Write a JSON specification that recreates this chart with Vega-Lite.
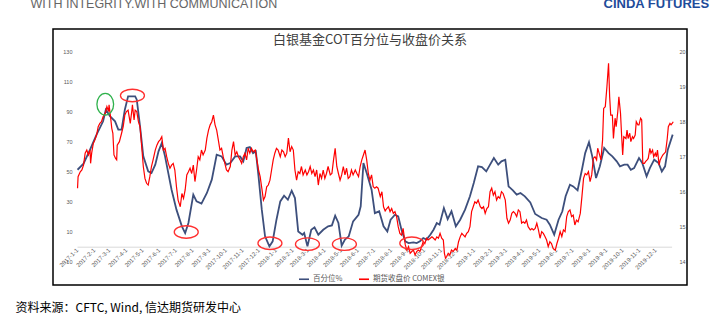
{
  "$schema": "https://vega.github.io/schema/vega-lite/v6.json",
  "width": 634,
  "height": 256,
  "autosize": {"type": "none"},
  "padding": {"left": 53, "top": 29, "right": 31, "bottom": 29},
  "background": "white",
  "config": {
    "view": {"stroke": "#000000", "strokeWidth": 1.5},
    "font": "Liberation Sans",
    "axis": {"labelFont": "Liberation Sans"}
  },
  "title": {
    "text": "白银基金COT百分位与收盘价关系",
    "frame": "group",
    "anchor": "middle",
    "orient": "top",
    "offset": -60,
    "baseline": "alphabetic",
    "font": "Noto Sans CJK SC",
    "fontSize": 13,
    "fontWeight": "normal",
    "color": "#404040"
  },
  "datasets": {
    "cot": [
      {"date": "2017-01-02", "pct": 51.3}, {"date": "2017-01-13", "pct": 55.3}, {"date": "2017-01-25", "pct": 64.7},
      {"date": "2017-02-06", "pct": 74.7}, {"date": "2017-02-18", "pct": 83.6}, {"date": "2017-02-23", "pct": 91.3},
      {"date": "2017-03-03", "pct": 86.9}, {"date": "2017-03-12", "pct": 83.6}, {"date": "2017-03-18", "pct": 78},
      {"date": "2017-03-24", "pct": 78}, {"date": "2017-03-30", "pct": 91.3}, {"date": "2017-04-05", "pct": 100.2},
      {"date": "2017-04-18", "pct": 100.2}, {"date": "2017-04-21", "pct": 98}, {"date": "2017-04-27", "pct": 80.2},
      {"date": "2017-05-03", "pct": 60.2}, {"date": "2017-05-12", "pct": 50.2}, {"date": "2017-05-18", "pct": 49.1},
      {"date": "2017-05-25", "pct": 54.7}, {"date": "2017-05-31", "pct": 63.6}, {"date": "2017-06-06", "pct": 69.1},
      {"date": "2017-06-12", "pct": 60.2}, {"date": "2017-06-18", "pct": 49.1}, {"date": "2017-06-24", "pct": 38},
      {"date": "2017-07-03", "pct": 24.7}, {"date": "2017-07-13", "pct": 13.6}, {"date": "2017-07-19", "pct": 9.1},
      {"date": "2017-07-25", "pct": 15.8}, {"date": "2017-08-03", "pct": 34.7}, {"date": "2017-08-09", "pct": 30.2},
      {"date": "2017-08-18", "pct": 28.7}, {"date": "2017-08-28", "pct": 35.8}, {"date": "2017-09-06", "pct": 44.7},
      {"date": "2017-09-15", "pct": 61.3}, {"date": "2017-09-24", "pct": 60.2}, {"date": "2017-10-03", "pct": 54.7},
      {"date": "2017-10-10", "pct": 55.8}, {"date": "2017-10-19", "pct": 60.2}, {"date": "2017-10-28", "pct": 60.2},
      {"date": "2017-11-03", "pct": 56.9}, {"date": "2017-11-09", "pct": 65.8}, {"date": "2017-11-15", "pct": 66.4},
      {"date": "2017-11-21", "pct": 62.4}, {"date": "2017-11-26", "pct": 63.6}, {"date": "2017-12-01", "pct": 46.9},
      {"date": "2017-12-07", "pct": 24.7}, {"date": "2017-12-13", "pct": 6.9}, {"date": "2017-12-21", "pct": 0.2},
      {"date": "2017-12-27", "pct": 3.6}, {"date": "2018-01-03", "pct": 18}, {"date": "2018-01-10", "pct": 30.2},
      {"date": "2018-01-17", "pct": 34}, {"date": "2018-01-24", "pct": 31.3}, {"date": "2018-01-31", "pct": 37.3},
      {"date": "2018-02-06", "pct": 32.4}, {"date": "2018-02-12", "pct": 10.2}, {"date": "2018-02-20", "pct": 8},
      {"date": "2018-02-23", "pct": 9.1}, {"date": "2018-03-01", "pct": 0.2}, {"date": "2018-03-08", "pct": 11.3},
      {"date": "2018-03-14", "pct": 12.9}, {"date": "2018-03-21", "pct": 8}, {"date": "2018-03-30", "pct": 11.3},
      {"date": "2018-04-08", "pct": 13.6}, {"date": "2018-04-15", "pct": 14.2}, {"date": "2018-04-21", "pct": 20.7},
      {"date": "2018-04-27", "pct": 15.8}, {"date": "2018-05-03", "pct": 0.7}, {"date": "2018-05-09", "pct": 4.7},
      {"date": "2018-05-16", "pct": 6.9}, {"date": "2018-05-24", "pct": 16.9}, {"date": "2018-06-03", "pct": 21.3},
      {"date": "2018-06-07", "pct": 26.9}, {"date": "2018-06-12", "pct": 55.8}, {"date": "2018-06-18", "pct": 49.1},
      {"date": "2018-06-27", "pct": 38}, {"date": "2018-07-03", "pct": 22.4}, {"date": "2018-07-11", "pct": 23.6},
      {"date": "2018-07-19", "pct": 13.6}, {"date": "2018-07-26", "pct": 10.2}, {"date": "2018-08-01", "pct": 18},
      {"date": "2018-08-09", "pct": 21.3}, {"date": "2018-08-15", "pct": 20.2}, {"date": "2018-08-21", "pct": 11.3},
      {"date": "2018-08-28", "pct": 3.6}, {"date": "2018-09-03", "pct": 2.4}, {"date": "2018-09-12", "pct": 2.9},
      {"date": "2018-09-18", "pct": 2.4}, {"date": "2018-09-24", "pct": 3.6}, {"date": "2018-09-30", "pct": 5.8},
      {"date": "2018-10-06", "pct": 4.7}, {"date": "2018-10-13", "pct": 8}, {"date": "2018-10-19", "pct": 11.3},
      {"date": "2018-10-25", "pct": 15.8}, {"date": "2018-10-30", "pct": 14.7}, {"date": "2018-11-07", "pct": 25.8},
      {"date": "2018-11-14", "pct": 18.4}, {"date": "2018-11-21", "pct": 23.6}, {"date": "2018-11-29", "pct": 13.6},
      {"date": "2018-12-07", "pct": 18}, {"date": "2018-12-16", "pct": 24.7}, {"date": "2018-12-25", "pct": 33.6},
      {"date": "2019-01-01", "pct": 42.4}, {"date": "2019-01-09", "pct": 53.6}, {"date": "2019-01-16", "pct": 53.1},
      {"date": "2019-01-24", "pct": 50.2}, {"date": "2019-01-31", "pct": 54.7}, {"date": "2019-02-07", "pct": 59.1},
      {"date": "2019-02-15", "pct": 54.7}, {"date": "2019-02-21", "pct": 56.9}, {"date": "2019-02-28", "pct": 58},
      {"date": "2019-03-06", "pct": 40.2}, {"date": "2019-03-14", "pct": 37.6}, {"date": "2019-03-21", "pct": 34.7},
      {"date": "2019-03-28", "pct": 35.8}, {"date": "2019-04-05", "pct": 33.6}, {"date": "2019-04-15", "pct": 29.5},
      {"date": "2019-04-24", "pct": 21.8}, {"date": "2019-05-06", "pct": 19.1}, {"date": "2019-05-15", "pct": 18},
      {"date": "2019-05-21", "pct": 14.7}, {"date": "2019-05-29", "pct": 8}, {"date": "2019-06-06", "pct": 18},
      {"date": "2019-06-13", "pct": 23.6}, {"date": "2019-06-19", "pct": 33.6}, {"date": "2019-06-27", "pct": 41.3},
      {"date": "2019-07-03", "pct": 40.2}, {"date": "2019-07-11", "pct": 37.6}, {"date": "2019-07-19", "pct": 51.3},
      {"date": "2019-07-25", "pct": 62.4}, {"date": "2019-08-01", "pct": 69.6}, {"date": "2019-08-07", "pct": 60.2},
      {"date": "2019-08-14", "pct": 45.8}, {"date": "2019-08-21", "pct": 53.6}, {"date": "2019-08-29", "pct": 65.8},
      {"date": "2019-09-06", "pct": 62.4}, {"date": "2019-09-13", "pct": 60.2}, {"date": "2019-09-21", "pct": 56.9},
      {"date": "2019-09-27", "pct": 53.6}, {"date": "2019-10-05", "pct": 54.7}, {"date": "2019-10-11", "pct": 54.7},
      {"date": "2019-10-17", "pct": 51.3}, {"date": "2019-10-23", "pct": 52.4}, {"date": "2019-11-01", "pct": 59.1},
      {"date": "2019-11-07", "pct": 55.8}, {"date": "2019-11-15", "pct": 46.9}, {"date": "2019-11-21", "pct": 52.4},
      {"date": "2019-11-29", "pct": 58}, {"date": "2019-12-07", "pct": 55.8}, {"date": "2019-12-13", "pct": 50.2},
      {"date": "2019-12-19", "pct": 53.6}, {"date": "2019-12-24", "pct": 64.7}, {"date": "2020-01-02", "pct": 74.7}
    ],
    "price": [
      {"date": "2017-01-02", "price": 16.10}, {"date": "2017-01-03", "price": 16.43}, {"date": "2017-01-07", "price": 16.57},
      {"date": "2017-01-10", "price": 16.62}, {"date": "2017-01-13", "price": 16.76}, {"date": "2017-01-16", "price": 17.10},
      {"date": "2017-01-19", "price": 17.19}, {"date": "2017-01-22", "price": 17.05}, {"date": "2017-01-25", "price": 17.19},
      {"date": "2017-01-26", "price": 16.81}, {"date": "2017-01-28", "price": 17.10}, {"date": "2017-01-31", "price": 17.38},
      {"date": "2017-02-03", "price": 17.48}, {"date": "2017-02-06", "price": 17.62}, {"date": "2017-02-09", "price": 17.86},
      {"date": "2017-02-12", "price": 17.95}, {"date": "2017-02-15", "price": 18.0}, {"date": "2017-02-18", "price": 18.14},
      {"date": "2017-02-22", "price": 18.24}, {"date": "2017-02-25", "price": 18.43}, {"date": "2017-02-28", "price": 18.29},
      {"date": "2017-03-01", "price": 18.48}, {"date": "2017-03-04", "price": 18.10}, {"date": "2017-03-06", "price": 17.81},
      {"date": "2017-03-08", "price": 17.67}, {"date": "2017-03-10", "price": 17.05}, {"date": "2017-03-13", "price": 16.95},
      {"date": "2017-03-15", "price": 16.91}, {"date": "2017-03-16", "price": 17.33}, {"date": "2017-03-20", "price": 17.43},
      {"date": "2017-03-24", "price": 17.67}, {"date": "2017-03-27", "price": 17.86}, {"date": "2017-03-30", "price": 18.19},
      {"date": "2017-04-02", "price": 18.29}, {"date": "2017-04-05", "price": 18.33}, {"date": "2017-04-09", "price": 17.95},
      {"date": "2017-04-12", "price": 18.33}, {"date": "2017-04-13", "price": 18.48}, {"date": "2017-04-16", "price": 18.05},
      {"date": "2017-04-18", "price": 18.33}, {"date": "2017-04-21", "price": 18.29}, {"date": "2017-04-24", "price": 18.0},
      {"date": "2017-04-27", "price": 17.86}, {"date": "2017-04-30", "price": 17.29}, {"date": "2017-05-03", "price": 16.72},
      {"date": "2017-05-06", "price": 16.38}, {"date": "2017-05-09", "price": 16.24}, {"date": "2017-05-12", "price": 16.19},
      {"date": "2017-05-15", "price": 16.43}, {"date": "2017-05-18", "price": 16.72}, {"date": "2017-05-21", "price": 16.91},
      {"date": "2017-05-25", "price": 17.19}, {"date": "2017-05-28", "price": 17.33}, {"date": "2017-05-31", "price": 17.43},
      {"date": "2017-06-03", "price": 17.48}, {"date": "2017-06-06", "price": 17.57}, {"date": "2017-06-09", "price": 17.19},
      {"date": "2017-06-12", "price": 17.24}, {"date": "2017-06-15", "price": 17.0}, {"date": "2017-06-18", "price": 16.81},
      {"date": "2017-06-21", "price": 16.67}, {"date": "2017-06-24", "price": 16.76}, {"date": "2017-06-27", "price": 16.81},
      {"date": "2017-06-30", "price": 16.62}, {"date": "2017-07-03", "price": 16.14}, {"date": "2017-07-06", "price": 15.76},
      {"date": "2017-07-10", "price": 15.57}, {"date": "2017-07-13", "price": 15.95}, {"date": "2017-07-16", "price": 15.81},
      {"date": "2017-07-19", "price": 16.05}, {"date": "2017-07-22", "price": 16.48}, {"date": "2017-07-25", "price": 16.57},
      {"date": "2017-07-28", "price": 16.67}, {"date": "2017-07-31", "price": 16.52}, {"date": "2017-08-03", "price": 16.76},
      {"date": "2017-08-06", "price": 16.29}, {"date": "2017-08-09", "price": 16.62}, {"date": "2017-08-12", "price": 17.0},
      {"date": "2017-08-15", "price": 16.91}, {"date": "2017-08-18", "price": 17.19}, {"date": "2017-08-21", "price": 17.05},
      {"date": "2017-08-25", "price": 17.19}, {"date": "2017-08-28", "price": 17.53}, {"date": "2017-08-31", "price": 17.76},
      {"date": "2017-09-03", "price": 17.91}, {"date": "2017-09-06", "price": 18.0}, {"date": "2017-09-09", "price": 18.19},
      {"date": "2017-09-12", "price": 17.91}, {"date": "2017-09-15", "price": 17.76}, {"date": "2017-09-18", "price": 17.48},
      {"date": "2017-09-21", "price": 17.19}, {"date": "2017-09-24", "price": 17.24}, {"date": "2017-09-27", "price": 17.0},
      {"date": "2017-09-30", "price": 16.81}, {"date": "2017-10-03", "price": 16.62}, {"date": "2017-10-06", "price": 16.57},
      {"date": "2017-10-10", "price": 16.72}, {"date": "2017-10-13", "price": 17.19}, {"date": "2017-10-16", "price": 17.43},
      {"date": "2017-10-19", "price": 17.05}, {"date": "2017-10-22", "price": 17.14}, {"date": "2017-10-25", "price": 17.0},
      {"date": "2017-10-28", "price": 16.91}, {"date": "2017-10-31", "price": 16.81}, {"date": "2017-11-03", "price": 17.0},
      {"date": "2017-11-06", "price": 17.10}, {"date": "2017-11-09", "price": 16.91}, {"date": "2017-11-12", "price": 17.24},
      {"date": "2017-11-15", "price": 17.10}, {"date": "2017-11-18", "price": 17.24}, {"date": "2017-11-21", "price": 17.14},
      {"date": "2017-11-25", "price": 17.19}, {"date": "2017-11-28", "price": 16.91}, {"date": "2017-12-01", "price": 16.62},
      {"date": "2017-12-04", "price": 16.43}, {"date": "2017-12-07", "price": 16.10}, {"date": "2017-12-10", "price": 15.76},
      {"date": "2017-12-13", "price": 15.86}, {"date": "2017-12-16", "price": 16.14}, {"date": "2017-12-19", "price": 16.19},
      {"date": "2017-12-22", "price": 16.33}, {"date": "2017-12-25", "price": 16.62}, {"date": "2017-12-28", "price": 16.91},
      {"date": "2017-12-31", "price": 17.10}, {"date": "2018-01-03", "price": 17.24}, {"date": "2018-01-06", "price": 17.19},
      {"date": "2018-01-10", "price": 17.0}, {"date": "2018-01-13", "price": 17.19}, {"date": "2018-01-16", "price": 17.14},
      {"date": "2018-01-19", "price": 17.0}, {"date": "2018-01-22", "price": 17.10}, {"date": "2018-01-25", "price": 17.53},
      {"date": "2018-01-28", "price": 17.14}, {"date": "2018-01-31", "price": 17.29}, {"date": "2018-02-03", "price": 17.19},
      {"date": "2018-02-06", "price": 16.62}, {"date": "2018-02-09", "price": 16.33}, {"date": "2018-02-12", "price": 16.57},
      {"date": "2018-02-15", "price": 16.52}, {"date": "2018-02-18", "price": 16.72}, {"date": "2018-02-21", "price": 16.48},
      {"date": "2018-02-25", "price": 16.62}, {"date": "2018-02-28", "price": 16.48}, {"date": "2018-03-03", "price": 16.57},
      {"date": "2018-03-06", "price": 16.72}, {"date": "2018-03-09", "price": 16.52}, {"date": "2018-03-12", "price": 16.62},
      {"date": "2018-03-15", "price": 16.43}, {"date": "2018-03-18", "price": 16.62}, {"date": "2018-03-21", "price": 16.19},
      {"date": "2018-03-24", "price": 16.52}, {"date": "2018-03-27", "price": 16.38}, {"date": "2018-03-30", "price": 16.62},
      {"date": "2018-04-02", "price": 16.38}, {"date": "2018-04-05", "price": 16.52}, {"date": "2018-04-08", "price": 16.72},
      {"date": "2018-04-12", "price": 16.48}, {"date": "2018-04-15", "price": 16.52}, {"date": "2018-04-18", "price": 16.91},
      {"date": "2018-04-21", "price": 17.24}, {"date": "2018-04-24", "price": 16.72}, {"date": "2018-04-27", "price": 16.52},
      {"date": "2018-04-30", "price": 16.33}, {"date": "2018-05-03", "price": 16.48}, {"date": "2018-05-06", "price": 16.72},
      {"date": "2018-05-09", "price": 16.48}, {"date": "2018-05-12", "price": 16.67}, {"date": "2018-05-15", "price": 16.38},
      {"date": "2018-05-18", "price": 16.43}, {"date": "2018-05-21", "price": 16.62}, {"date": "2018-05-24", "price": 16.48},
      {"date": "2018-05-28", "price": 16.62}, {"date": "2018-05-31", "price": 16.52}, {"date": "2018-06-03", "price": 16.43},
      {"date": "2018-06-06", "price": 16.72}, {"date": "2018-06-09", "price": 16.91}, {"date": "2018-06-12", "price": 17.05},
      {"date": "2018-06-15", "price": 17.19}, {"date": "2018-06-18", "price": 16.91}, {"date": "2018-06-21", "price": 16.52},
      {"date": "2018-06-24", "price": 16.33}, {"date": "2018-06-27", "price": 16.48}, {"date": "2018-06-30", "price": 16.14},
      {"date": "2018-07-03", "price": 16.10}, {"date": "2018-07-06", "price": 16.14}, {"date": "2018-07-09", "price": 16.10},
      {"date": "2018-07-13", "price": 15.86}, {"date": "2018-07-16", "price": 16.0}, {"date": "2018-07-19", "price": 15.57},
      {"date": "2018-07-22", "price": 15.45}, {"date": "2018-07-25", "price": 15.52}, {"date": "2018-07-28", "price": 15.57},
      {"date": "2018-07-31", "price": 15.43}, {"date": "2018-08-03", "price": 15.52}, {"date": "2018-08-06", "price": 15.38},
      {"date": "2018-08-09", "price": 15.43}, {"date": "2018-08-12", "price": 15.29}, {"date": "2018-08-15", "price": 15.0},
      {"date": "2018-08-18", "price": 14.81}, {"date": "2018-08-21", "price": 14.76}, {"date": "2018-08-24", "price": 14.95},
      {"date": "2018-08-28", "price": 14.48}, {"date": "2018-08-31", "price": 14.33}, {"date": "2018-09-03", "price": 14.43},
      {"date": "2018-09-06", "price": 14.24}, {"date": "2018-09-09", "price": 14.29}, {"date": "2018-09-12", "price": 14.33},
      {"date": "2018-09-15", "price": 14.19}, {"date": "2018-09-18", "price": 14.29}, {"date": "2018-09-21", "price": 14.33},
      {"date": "2018-09-24", "price": 14.29}, {"date": "2018-09-27", "price": 14.43}, {"date": "2018-09-30", "price": 14.57},
      {"date": "2018-10-03", "price": 14.52}, {"date": "2018-10-06", "price": 14.67}, {"date": "2018-10-09", "price": 14.62},
      {"date": "2018-10-13", "price": 14.67}, {"date": "2018-10-16", "price": 14.71}, {"date": "2018-10-19", "price": 14.67},
      {"date": "2018-10-22", "price": 14.62}, {"date": "2018-10-25", "price": 14.71}, {"date": "2018-10-28", "price": 14.67},
      {"date": "2018-10-31", "price": 14.81}, {"date": "2018-11-03", "price": 14.67}, {"date": "2018-11-06", "price": 14.62},
      {"date": "2018-11-08", "price": 14.24}, {"date": "2018-11-10", "price": 14.10}, {"date": "2018-11-12", "price": 14.14},
      {"date": "2018-11-15", "price": 14.24}, {"date": "2018-11-18", "price": 14.19}, {"date": "2018-11-21", "price": 14.33},
      {"date": "2018-11-24", "price": 14.29}, {"date": "2018-11-28", "price": 14.38}, {"date": "2018-12-01", "price": 14.33},
      {"date": "2018-12-04", "price": 14.57}, {"date": "2018-12-07", "price": 14.71}, {"date": "2018-12-10", "price": 14.81},
      {"date": "2018-12-13", "price": 14.76}, {"date": "2018-12-16", "price": 14.71}, {"date": "2018-12-19", "price": 14.81},
      {"date": "2018-12-22", "price": 14.86}, {"date": "2018-12-25", "price": 15.0}, {"date": "2018-12-28", "price": 15.43},
      {"date": "2018-12-31", "price": 15.57}, {"date": "2019-01-03", "price": 15.71}, {"date": "2019-01-06", "price": 15.67},
      {"date": "2019-01-09", "price": 15.76}, {"date": "2019-01-13", "price": 15.57}, {"date": "2019-01-16", "price": 15.52},
      {"date": "2019-01-19", "price": 15.57}, {"date": "2019-01-22", "price": 15.38}, {"date": "2019-01-25", "price": 15.52},
      {"date": "2019-01-28", "price": 15.57}, {"date": "2019-01-31", "price": 16.0}, {"date": "2019-02-03", "price": 16.10},
      {"date": "2019-02-06", "price": 15.90}, {"date": "2019-02-09", "price": 16.0}, {"date": "2019-02-12", "price": 15.76},
      {"date": "2019-02-15", "price": 15.86}, {"date": "2019-02-18", "price": 15.81}, {"date": "2019-02-21", "price": 16.0},
      {"date": "2019-02-24", "price": 15.95}, {"date": "2019-02-28", "price": 15.76}, {"date": "2019-03-03", "price": 15.24},
      {"date": "2019-03-06", "price": 15.10}, {"date": "2019-03-09", "price": 15.19}, {"date": "2019-03-12", "price": 15.38},
      {"date": "2019-03-15", "price": 15.43}, {"date": "2019-03-18", "price": 15.38}, {"date": "2019-03-21", "price": 15.29},
      {"date": "2019-03-24", "price": 15.48}, {"date": "2019-03-27", "price": 15.43}, {"date": "2019-03-30", "price": 15.10},
      {"date": "2019-04-02", "price": 15.14}, {"date": "2019-04-05", "price": 15.10}, {"date": "2019-04-08", "price": 15.19},
      {"date": "2019-04-11", "price": 15.0}, {"date": "2019-04-15", "price": 14.91}, {"date": "2019-04-18", "price": 14.95},
      {"date": "2019-04-21", "price": 14.91}, {"date": "2019-04-24", "price": 14.95}, {"date": "2019-04-27", "price": 15.1},
      {"date": "2019-04-30", "price": 14.91}, {"date": "2019-05-03", "price": 14.67}, {"date": "2019-05-06", "price": 14.86},
      {"date": "2019-05-09", "price": 14.81}, {"date": "2019-05-12", "price": 14.72}, {"date": "2019-05-15", "price": 14.62},
      {"date": "2019-05-18", "price": 14.43}, {"date": "2019-05-21", "price": 14.57}, {"date": "2019-05-24", "price": 14.52},
      {"date": "2019-05-27", "price": 14.38}, {"date": "2019-05-31", "price": 14.33}, {"date": "2019-06-03", "price": 14.52},
      {"date": "2019-06-06", "price": 14.67}, {"date": "2019-06-09", "price": 14.86}, {"date": "2019-06-12", "price": 14.72},
      {"date": "2019-06-15", "price": 14.91}, {"date": "2019-06-18", "price": 14.86}, {"date": "2019-06-21", "price": 15.29},
      {"date": "2019-06-24", "price": 15.43}, {"date": "2019-06-27", "price": 15.48}, {"date": "2019-06-30", "price": 15.29},
      {"date": "2019-07-03", "price": 15.33}, {"date": "2019-07-06", "price": 15.05}, {"date": "2019-07-09", "price": 15.19},
      {"date": "2019-07-12", "price": 15.14}, {"date": "2019-07-16", "price": 15.38}, {"date": "2019-07-19", "price": 15.86},
      {"date": "2019-07-22", "price": 16.38}, {"date": "2019-07-25", "price": 16.52}, {"date": "2019-07-28", "price": 16.48},
      {"date": "2019-07-31", "price": 16.57}, {"date": "2019-08-03", "price": 16.29}, {"date": "2019-08-06", "price": 16.48},
      {"date": "2019-08-09", "price": 16.95}, {"date": "2019-08-12", "price": 17.0}, {"date": "2019-08-15", "price": 16.91},
      {"date": "2019-08-17", "price": 17.24}, {"date": "2019-08-19", "price": 17.14}, {"date": "2019-08-23", "price": 16.91},
      {"date": "2019-08-26", "price": 17.48}, {"date": "2019-08-28", "price": 18.38}, {"date": "2019-08-31", "price": 18.43},
      {"date": "2019-09-03", "price": 19.0}, {"date": "2019-09-06", "price": 19.67}, {"date": "2019-09-08", "price": 18.72},
      {"date": "2019-09-10", "price": 18.19}, {"date": "2019-09-13", "price": 18.19}, {"date": "2019-09-15", "price": 17.52},
      {"date": "2019-09-18", "price": 18.1}, {"date": "2019-09-20", "price": 17.86}, {"date": "2019-09-23", "price": 18.29},
      {"date": "2019-09-25", "price": 18.71}, {"date": "2019-09-28", "price": 18.24}, {"date": "2019-09-30", "price": 17.62},
      {"date": "2019-10-02", "price": 17.05}, {"date": "2019-10-04", "price": 17.57}, {"date": "2019-10-08", "price": 17.52},
      {"date": "2019-10-10", "price": 17.76}, {"date": "2019-10-12", "price": 17.52}, {"date": "2019-10-15", "price": 17.67},
      {"date": "2019-10-17", "price": 17.43}, {"date": "2019-10-20", "price": 17.57}, {"date": "2019-10-22", "price": 17.52},
      {"date": "2019-10-25", "price": 17.62}, {"date": "2019-10-27", "price": 18.0}, {"date": "2019-10-30", "price": 17.91},
      {"date": "2019-11-01", "price": 17.91}, {"date": "2019-11-04", "price": 18.1}, {"date": "2019-11-06", "price": 18.05},
      {"date": "2019-11-08", "price": 16.81}, {"date": "2019-11-11", "price": 16.81}, {"date": "2019-11-13", "price": 16.86},
      {"date": "2019-11-16", "price": 16.91}, {"date": "2019-11-18", "price": 16.95}, {"date": "2019-11-21", "price": 17.24},
      {"date": "2019-11-23", "price": 17.1}, {"date": "2019-11-26", "price": 17.19}, {"date": "2019-11-28", "price": 17.0},
      {"date": "2019-12-01", "price": 17.1}, {"date": "2019-12-03", "price": 17.0}, {"date": "2019-12-05", "price": 17.19},
      {"date": "2019-12-08", "price": 16.76}, {"date": "2019-12-10", "price": 16.91}, {"date": "2019-12-13", "price": 17.0},
      {"date": "2019-12-15", "price": 17.05}, {"date": "2019-12-18", "price": 17.1}, {"date": "2019-12-20", "price": 17.14},
      {"date": "2019-12-23", "price": 17.52}, {"date": "2019-12-25", "price": 17.86}, {"date": "2019-12-28", "price": 17.95},
      {"date": "2019-12-30", "price": 17.91}, {"date": "2020-01-01", "price": 17.95}, {"date": "2020-01-03", "price": 18.0}
    ],
    "greenMarks": [
      {"date": "2017-02-22", "pct": 95}
    ],
    "redMarks": [
      {"date": "2017-04-13", "pct": 100.8},
      {"date": "2017-07-21", "pct": 9.8},
      {"date": "2017-12-22", "pct": 2.3},
      {"date": "2018-03-01", "pct": 1.7},
      {"date": "2018-05-08", "pct": 1.7},
      {"date": "2018-09-09", "pct": 2.3}
    ]
  },
  "encoding": {
    "x": {
      "field": "date",
      "type": "temporal",
      "scale": {
        "domain": ["2017-01-01", "2019-12-31"],
        "range": [24, 618.6]
      },
      "axis": {
        "orient": "bottom",
        "offset": -38.3,
        "format": "%Y-%-m-%-d",
        "tickCount": {"interval": "month", "step": 1},
        "labelAngle": -45,
        "labelAlign": "right",
        "labelBaseline": "middle",
        "labelFontSize": 6,
        "labelColor": "#595959",
        "labelPadding": 2,
        "labelOverlap": false,
        "labelFlush": false,
        "ticks": false,
        "grid": false,
        "domainColor": "#D9D9D9",
        "domainWidth": 1,
        "title": "资料来源：CFTC, Wind, 信达期货研发中心",
        "titleX": -38,
        "titleY": 65,
        "titleAlign": "left",
        "titleBaseline": "alphabetic",
        "titleAngle": 0,
        "titleFont": "Noto Sans CJK SC",
        "titleFontSize": 12,
        "titleFontWeight": "normal",
        "titleColor": "#000000"
      }
    }
  },
  "layer": [
    {
      "data": {"name": "cot"},
      "mark": {"type": "line", "strokeWidth": 1.8},
      "encoding": {
        "y": {
          "field": "pct",
          "type": "quantitative",
          "scale": {"domain": [-10, 130], "nice": false, "zero": false, "range": [232.7, 22.7]},
          "axis": {
            "orient": "left",
            "values": [-10, 10, 30, 50, 70, 90, 110, 130],
            "domain": false,
            "ticks": false,
            "grid": false,
            "labelFontSize": 5.5,
            "labelColor": "#595959",
            "labelPadding": 0,
            "offset": -19,
            "title": "WITH INTEGRITY.WITH COMMUNICATION",
            "titleAngle": 0,
            "titleX": -42,
            "titleY": -22,
            "titleAlign": "left",
            "titleBaseline": "alphabetic",
            "titleFont": "Liberation Sans",
            "titleFontSize": 12.5,
            "titleFontWeight": "normal",
            "titleColor": "#666666"
          }
        },
        "color": {
          "datum": "百分位%",
          "type": "nominal",
          "scale": {"domain": ["百分位%", "期货收盘价 COMEX银"], "range": ["#3D4F7C", "#FF0000"]},
          "legend": {
            "orient": "none",
            "legendX": 245,
            "legendY": 244,
            "direction": "horizontal",
            "columns": 2,
            "title": null,
            "symbolType": "stroke",
            "symbolSize": 100,
            "symbolStrokeWidth": 1.6,
            "labelFont": "Noto Sans CJK SC",
            "labelFontSize": 7.5,
            "labelColor": "#595959",
            "labelOffset": 3,
            "columnPadding": 12,
            "labelLimit": 200
          }
        }
      }
    },
    {
      "data": {"name": "price"},
      "mark": {"type": "line", "strokeWidth": 1.2},
      "encoding": {
        "y": {
          "field": "price",
          "type": "quantitative",
          "scale": {"domain": [14, 20], "nice": false, "zero": false, "range": [232.7, 22.7]},
          "axis": {
            "orient": "right",
            "values": [14, 15, 16, 17, 18, 19, 20],
            "domain": false,
            "ticks": false,
            "grid": false,
            "labelFontSize": 5.5,
            "labelColor": "#595959",
            "labelPadding": 0,
            "offset": -8,
            "title": "CINDA FUTURES",
            "titleAngle": 0,
            "titleX": -76,
            "titleY": -22,
            "titleAlign": "left",
            "titleBaseline": "alphabetic",
            "titleFont": "Liberation Sans",
            "titleFontSize": 13,
            "titleFontWeight": "bold",
            "titleColor": "#1E4C9A"
          }
        },
        "color": {
          "datum": "期货收盘价 COMEX银",
          "type": "nominal",
          "scale": {"domain": ["百分位%", "期货收盘价 COMEX银"], "range": ["#3D4F7C", "#FF0000"]},
          "legend": {
            "orient": "none",
            "legendX": 245,
            "legendY": 244,
            "direction": "horizontal",
            "columns": 2,
            "title": null,
            "symbolType": "stroke",
            "symbolSize": 100,
            "symbolStrokeWidth": 1.6,
            "labelFont": "Noto Sans CJK SC",
            "labelFontSize": 7.5,
            "labelColor": "#595959",
            "labelOffset": 3,
            "columnPadding": 12,
            "labelLimit": 200
          }
        }
      }
    },
    {
      "data": {"name": "greenMarks"},
      "mark": {
        "type": "point",
        "shape": "M-0.77,0A0.77,1 0 1 1 0.77,0A0.77,1 0 1 1 -0.77,0Z",
        "size": 471,
        "filled": false,
        "stroke": "#2FB24C",
        "strokeWidth": 1.3,
        "opacity": 1
      },
      "encoding": {
        "y": {
          "field": "pct",
          "type": "quantitative",
          "scale": {"domain": [-10, 130], "nice": false, "zero": false, "range": [232.7, 22.7]},
          "axis": null
        }
      }
    },
    {
      "data": {"name": "redMarks"},
      "mark": {
        "type": "point",
        "shape": "M-1,0A1,0.52 0 1 1 1,0A1,0.52 0 1 1 -1,0Z",
        "size": 576,
        "filled": false,
        "stroke": "#FF3030",
        "strokeWidth": 1.3,
        "opacity": 1
      },
      "encoding": {
        "y": {
          "field": "pct",
          "type": "quantitative",
          "scale": {"domain": [-10, 130], "nice": false, "zero": false, "range": [232.7, 22.7]},
          "axis": null
        }
      }
    }
  ],
  "resolve": {"scale": {"y": "independent"}}
}
